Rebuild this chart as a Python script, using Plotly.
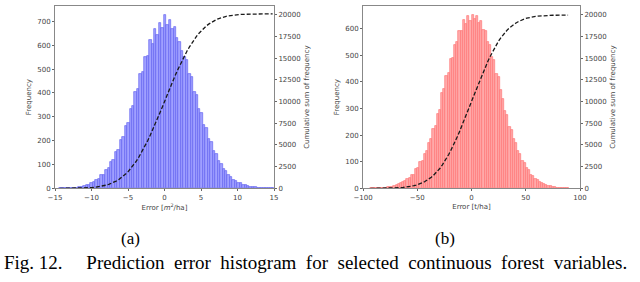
import numpy as np
import plotly.graph_objects as go

# ---- Data ----
# (a) basal-area error histogram: bins start at -14.5, width 0.335
a_bin_start = -14.5
a_bin_width = 0.335
a_counts = [0, 0, 0, 0, 1, 1, 2, 4, 7, 6, 11, 14, 15, 24, 25, 36, 38, 55, 58, 78,
            84, 110, 118, 152, 160, 203, 214, 262, 275, 332, 345, 405, 418, 482, 488, 552,
            556, 622, 606, 668, 645, 693, 672, 728, 684, 705, 668, 676, 630, 612, 578,
            551, 540, 478, 468, 405, 392, 335, 318, 268, 252, 208, 194, 158, 145, 114,
            104, 82, 72, 55, 50, 37, 32, 24, 21, 15, 13, 9, 8, 5, 5, 3, 2, 2, 1, 0, 0, 0]

# (b) biomass error histogram: bins start at -94, width 2
b_bin_start = -94.0
b_bin_width = 2.0
b_counts = [0, 0, 0, 0, 1, 0, 2, 3, 4, 6, 7, 10, 12, 15, 19, 24, 27, 35, 38, 52,
            50, 72, 76, 99, 104, 130, 141, 172, 185, 222, 236, 280, 294, 360, 372, 422,
            432, 486, 490, 540, 548, 592, 590, 632, 618, 648, 630, 652, 636, 648, 622,
            630, 595, 592, 550, 540, 492, 482, 430, 418, 370, 336, 290, 276, 232, 220,
            184, 170, 140, 130, 104, 96, 76, 68, 52, 48, 36, 33, 24, 22, 16, 14, 10,
            8, 6, 4, 3, 2, 1, 1, 0, 0]

a_xticks = [-15, -10, -5, 0, 5, 10, 15]
b_xticks = [-100, -50, 0, 50, 100]
a_freq_ticks = [0, 100, 200, 300, 400, 500, 600, 700]
b_freq_ticks = [0, 100, 200, 300, 400, 500, 600]
cum_ticks = [0, 2500, 5000, 7500, 10000, 12500, 15000, 17500, 20000]

a_xtitle = "Error [<i>m</i><sup>2</sup>/ha]"
b_xtitle = "Error [t/ha]"
freq_title = "Frequency"
cum_title = "Cumulative sum of frequency"
sub_a = "(a)"
sub_b = "(b)"
caption_words = ["Prediction", "error", "histogram", "for", "selected",
                 "continuous", "forest", "variables."]
caption_label = "Fig. 12."

# ---- Derived ----
a_centers = a_bin_start + a_bin_width * (np.arange(len(a_counts)) + 0.5)
b_centers = b_bin_start + b_bin_width * (np.arange(len(b_counts)) + 0.5)
a_cum = np.cumsum(a_counts)
b_cum = np.cumsum(b_counts)

# justified-looking caption (slightly wider word gaps)
caption = caption_label + "     " + "  ".join(caption_words)

fig = go.Figure()

fig.add_trace(go.Bar(x=a_centers, y=a_counts, width=a_bin_width,
                     marker=dict(color="#a0a0ff",
                                 line=dict(color="#5a5aee", width=0.6)),
                     xaxis="x", yaxis="y", showlegend=False))
fig.add_trace(go.Scatter(x=a_centers, y=a_cum, mode="lines",
                         line=dict(color="#1a1a1a", width=1.3, dash="4px,2px"),
                         xaxis="x", yaxis="y2", showlegend=False))
fig.add_trace(go.Bar(x=b_centers, y=b_counts, width=b_bin_width,
                     marker=dict(color="#ffaaaa",
                                 line=dict(color="#ff6c6c", width=0.6)),
                     xaxis="x2", yaxis="y3", showlegend=False))
fig.add_trace(go.Scatter(x=b_centers, y=b_cum, mode="lines",
                         line=dict(color="#1a1a1a", width=1.3, dash="4px,2px"),
                         xaxis="x2", yaxis="y4", showlegend=False))

tickfont = dict(family="DejaVu Sans", size=7, color="#444")
titlefont = dict(family="DejaVu Sans", size=7, color="#444")
ax_common = dict(showgrid=False, zeroline=False, ticks="outside", ticklen=2,
                 tickwidth=0.8, tickcolor="#666", tickfont=tickfont,
                 showline=True, linecolor="#888", linewidth=1,
                 automargin=False, tickformat="d")

dom_y = [0.332, 0.979]
fig.update_layout(
    width=640, height=282,
    margin=dict(l=0, r=0, t=0, b=0, autoexpand=False),
    paper_bgcolor="white", plot_bgcolor="white",
    bargap=0,
    hovermode=False,
    xaxis=dict(domain=[55/640, 274/640], anchor="y", range=[-15, 15],
               tickvals=a_xticks, mirror=True,
               title=dict(text=a_xtitle, font=titlefont, standoff=3), **ax_common),
    yaxis=dict(domain=dom_y, anchor="x", range=[0, 765], tickvals=a_freq_ticks,
               title=dict(text=freq_title, font=titlefont, standoff=4), **ax_common),
    yaxis2=dict(overlaying="y", side="right", anchor="x", range=[0, 21000],
                tickvals=cum_ticks,
                title=dict(text=cum_title, font=titlefont, standoff=4), **ax_common),
    xaxis2=dict(domain=[363/640, 580/640], anchor="y3", range=[-100, 100],
                tickvals=b_xticks, mirror=True,
                title=dict(text=b_xtitle, font=titlefont, standoff=3), **ax_common),
    yaxis3=dict(domain=dom_y, anchor="x2", range=[0, 685], tickvals=b_freq_ticks,
                title=dict(text=freq_title, font=titlefont, standoff=4), **ax_common),
    yaxis4=dict(overlaying="y3", side="right", anchor="x2", range=[0, 21000],
                tickvals=cum_ticks,
                title=dict(text=cum_title, font=titlefont, standoff=4), **ax_common),
    annotations=[
        dict(text=sub_a, x=130/640, y=1 - 239/282, xref="paper", yref="paper",
             showarrow=False, xanchor="center", yanchor="middle",
             font=dict(family="Liberation Serif", size=17, color="black")),
        dict(text=sub_b, x=445/640, y=1 - 239/282, xref="paper", yref="paper",
             showarrow=False, xanchor="center", yanchor="middle",
             font=dict(family="Liberation Serif", size=17, color="black")),
        dict(text=caption, x=2/640, y=1 - 262/282, xref="paper", yref="paper",
             showarrow=False, xanchor="left", yanchor="middle",
             font=dict(family="Liberation Serif", size=19, color="black")),
    ],
)

fig.write_html("out.html",
               config={"displayModeBar": False},
               post_script="document.body.style.margin='0';document.body.style.padding='0';")
